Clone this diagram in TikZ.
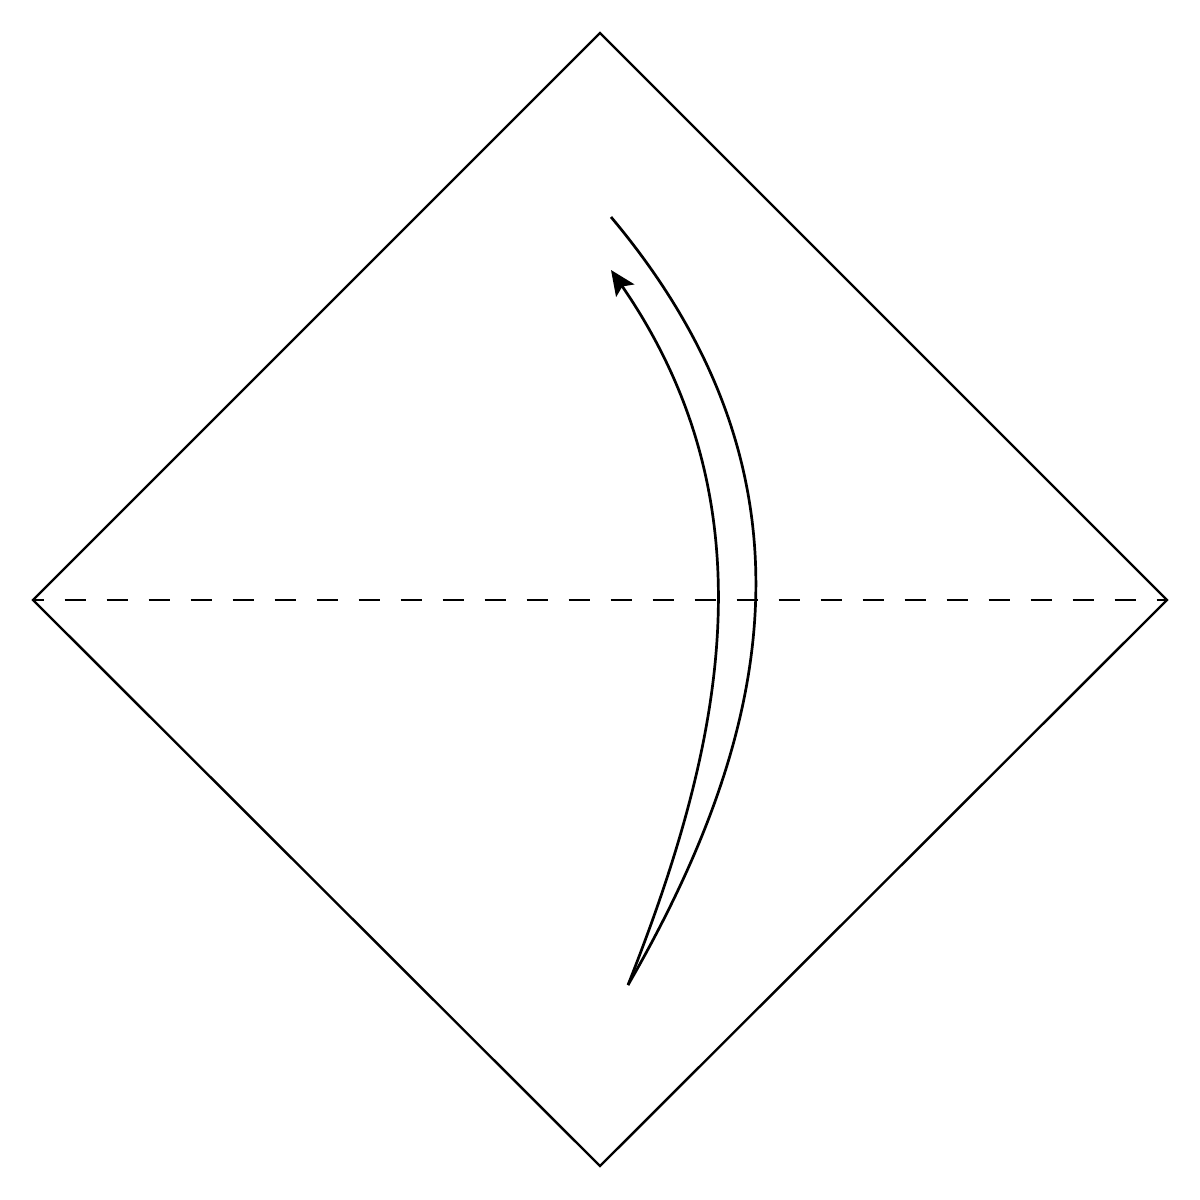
\documentclass[tikz,border=0pt]{standalone}
\usetikzlibrary{arrows.meta}
\begin{document}
\begin{tikzpicture}[x=0.5pt,y=-0.5pt,
  edge/.style={line width=1.2pt,line join=miter},
  fold/.style={line width=0.85pt,dash pattern=on 10.5pt off 10.5pt,dash phase=5.25pt},
  curve/.style={line width=1.35pt}]
\useasboundingbox (0,0) rectangle (1200,1200);
\coordinate (T) at (600,33);
\coordinate (R) at (1167,600);
\coordinate (B) at (600,1166);
\coordinate (L) at (33,600);
\coordinate (S) at (628,985);
\coordinate (E1) at (611,270);
\coordinate (E2) at (611,217);
\draw[edge] (T) -- (R) -- (B) -- (L) -- cycle;
\draw[fold] (L) -- (R);
\draw[curve,-{Stealth[length=12.5pt,width=11pt,inset=2.5pt]}] (S) .. controls (722,747) and (775,508) .. (E1);
\draw[curve] (S) .. controls (776,729) and (826,473) .. (E2);
\end{tikzpicture}
\end{document}
